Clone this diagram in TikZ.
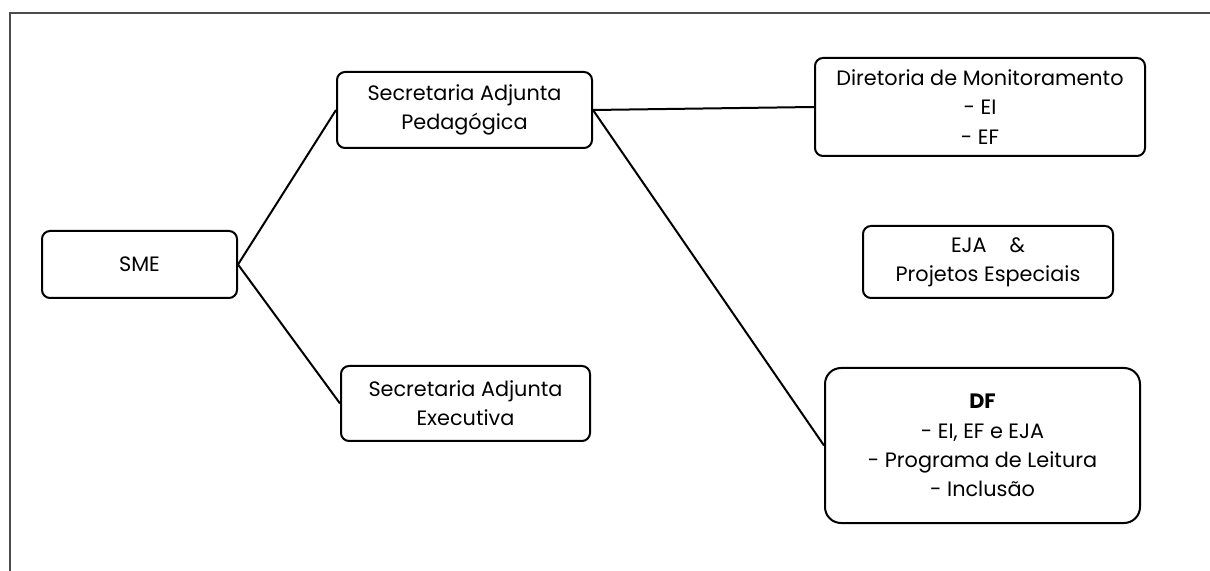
\documentclass[tikz,border=0pt]{standalone}
\usepackage{fontspec}
\setmainfont{Poppins}
\usepackage{tikz}
\usetikzlibrary{positioning}

\begin{document}
\begin{tikzpicture}[x=0.5pt,y=-0.5pt,
    caixa/.style={draw,line width=1pt,rounded corners=4pt,align=center,inner sep=0pt,
        font=\fontsize{10.4}{14.6}\selectfont},
    ligacao/.style={line width=1pt}]
            \useasboundingbox (0,0) rectangle (1210,571);
            \draw[line width=0.7pt,black!70] (10,580) --(10,13) --(1220,13); %moldura
            \node[caixa,minimum width=97.5pt,minimum height=33.5pt] (sme) at (139.5,264.5) {SME}; %raiz
            \node[caixa,minimum width=127.5pt,minimum height=38pt] (sap) at (464.5,110) {Secretaria Adjunta\\Pedag\'ogica};
            \node[caixa,minimum width=124.5pt,minimum height=37.5pt] (sae) at (465.5,403.5) {Secretaria Adjunta\\Executiva};
            \node[caixa,minimum width=165pt,minimum height=49pt] (dir) at (980,107) {Diretoria de Monitoramento\\- EI\\- EF};
            \node[caixa,minimum width=125pt,minimum height=36pt] (eja) at (988,262) {EJA\hspace{1.1em}\&\\Projetos Especiais};
            \node[caixa,rounded corners=8pt,minimum width=157.5pt,minimum height=77.5pt] (df) at (982.5,445.5) {\textbf{DF}\\- EI, EF e EJA\\- Programa de Leitura\\- Inclus\~ao};
            \draw[ligacao] (sme.east) --(sap.west); %ligacoes
            \draw[ligacao] (sme.east) --(sae.west);
            \draw[ligacao] (sap.east) --(dir.west);
            \draw[ligacao] (sap.east) --(df.west);
        \end{tikzpicture}
\end{document}
